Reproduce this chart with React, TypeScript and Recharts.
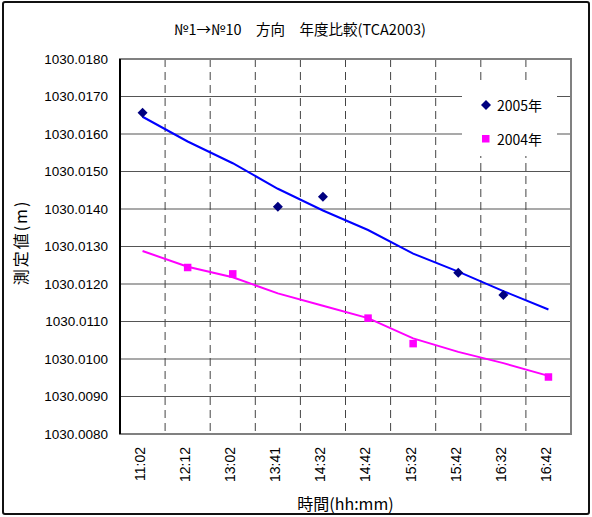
import React from 'react';
import {
  ComposedChart, Line, Scatter, XAxis, YAxis, CartesianGrid, Legend, ReferenceArea,
} from 'recharts';

const times = ['11:02', '12:12', '13:02', '13:41', '14:32', '14:42', '15:32', '15:42', '16:32', '16:42'];
const obs2005 = [1030.01657, null, null, 1030.01406, 1030.01433, null, null, 1030.0123, 1030.01171, null];
const obs2004 = [null, 1030.01244, 1030.01227, null, null, 1030.01109, 1030.01041, null, null, 1030.00952];
const trend2005 = [1030.01646, 1030.0158, 1030.01522, 1030.01454, 1030.01396, 1030.01344, 1030.01281, 1030.01233, 1030.01181, 1030.01132];
const trend2004 = [1030.01288, 1030.01246, 1030.01218, 1030.01175, 1030.01142, 1030.01109, 1030.01055, 1030.01019, 1030.00989, 1030.00955];
const yTicks = [1030.008, 1030.009, 1030.01, 1030.011, 1030.012, 1030.013, 1030.014, 1030.015, 1030.016, 1030.017, 1030.018];
const centerTicks = [0.5, 1.5, 2.5, 3.5, 4.5, 5.5, 6.5, 7.5, 8.5, 9.5];
const boundaryTicks = [1, 2, 3, 4, 5, 6, 7, 8, 9];
const seriesNames = ['2005年', '2004年'];
const titleText = '№1→№10　方向　年度比較(TCA2003)';
const xTitle = '時間(hh:mm)';
const yTitle = '測定値(m)';

const data = times.map((t, i) => ({ x: i + 0.5, time: t, t2005: trend2005[i], t2004: trend2004[i] }));
const pts2005 = times.map((t, i) => ({ x: i + 0.5, y: obs2005[i] })).filter((d) => d.y != null);
const pts2004 = times.map((t, i) => ({ x: i + 0.5, y: obs2004[i] })).filter((d) => d.y != null);

const numFont = "'Liberation Sans', Arial, sans-serif";
const jpFont = "'Noto Sans CJK JP', 'Liberation Sans', sans-serif";

const Diamond = (props: any) => {
  const { cx, cy } = props;
  if (cx == null || cy == null) return null;
  const r = 5;
  return <polygon points={`${cx},${cy - r} ${cx + r},${cy} ${cx},${cy + r} ${cx - r},${cy}`} fill="#000080" />;
};
const Square = (props: any) => {
  const { cx, cy } = props;
  if (cx == null || cy == null) return null;
  const s = 7.5;
  return <rect x={cx - s / 2} y={cy - s / 2} width={s} height={s} fill="#FF00FF" />;
};

const TimeTick = (props: any) => {
  const { x, y, payload } = props;
  const idx = Math.round(payload.value - 0.5);
  const label = times[idx] ?? '';
  const tx = x - 2.5;
  return (
    <text x={tx} y={y} transform={`rotate(-90, ${tx}, ${y})`} textAnchor="end" dy="0.35em"
      fontSize={14} fontFamily={numFont} fill="#000">
      {label}
    </text>
  );
};

const YTitle = (props: any) => {
  const vb = props.viewBox || {};
  const cy = (vb.y ?? 59) + (vb.height ?? 375) / 2 - 4;
  const cx = 21;
  return (
    <text x={cx} y={cy} transform={`rotate(-90, ${cx}, ${cy})`} textAnchor="middle" dy="0.35em"
      fontSize={16} letterSpacing={2} fontFamily={jpFont} fill="#000">
      {yTitle}
    </text>
  );
};

const LegendBox = () => (
  <div style={{ position: 'relative', width: 95, height: 72, fontFamily: jpFont, fontSize: 14, color: '#000' }}>
    <svg style={{ position: 'absolute', left: 18, top: 15 }} width={12} height={12}>
      <polygon points="6,1 11,6 6,11 1,6" fill="#000080" />
    </svg>
    <span style={{ position: 'absolute', left: 35, top: 11, lineHeight: '20px' }}>{seriesNames[0]}</span>
    <svg style={{ position: 'absolute', left: 18, top: 49 }} width={12} height={12}>
      <rect x={2} y={2} width={7.5} height={7.5} fill="#FF00FF" />
    </svg>
    <span style={{ position: 'absolute', left: 35, top: 45, lineHeight: '20px' }}>{seriesNames[1]}</span>
  </div>
);

export default function App() {
  return (
    <div style={{ position: 'absolute', left: 0, top: 0, width: 592, height: 517, background: '#fff' }}>
      <div style={{
        position: 'absolute', left: 2, top: 1, width: 584, height: 510,
        border: '2px solid #111', borderRadius: 3,
      }} />
      <div style={{
        position: 'absolute', left: 0, top: 18, width: 600, textAlign: 'center',
        fontFamily: jpFont, fontSize: 14.5, color: '#000',
      }}>{titleText}</div>
      <div style={{ position: 'absolute', left: 0, top: 0 }}>
        <ComposedChart width={592} height={517} data={data}
          margin={{ top: 59, right: 21, bottom: 0, left: 0 }}>
          <XAxis xAxisId="grid" dataKey="x" type="number" domain={[0, 10]} ticks={boundaryTicks}
            allowDataOverflow height={0} mirror tickSize={5} tickFormatter={() => ''}
            axisLine={{ stroke: '#000', strokeWidth: 2 }} tickLine={{ stroke: '#000', strokeWidth: 1 }} />
          <XAxis xAxisId="lab" dataKey="x" type="number" domain={[0, 10]} ticks={centerTicks}
            allowDataOverflow height={83} axisLine={false} tickLine={false} tickSize={0} tickMargin={13}
            tick={<TimeTick />} interval={0}
            label={{ value: xTitle, position: 'insideBottom', offset: 7, fontSize: 16, fontFamily: jpFont, fill: '#000' }} />
          <YAxis yAxisId="v" type="number" domain={[1030.008, 1030.018]} ticks={yTicks} allowDataOverflow
            width={120} interval={0} tickLine={false} tickMargin={6}
            axisLine={{ stroke: '#000', strokeWidth: 2 }}
            tickFormatter={(v: number) => v.toFixed(4)}
            tick={{ fontSize: 13.5, fontFamily: numFont, fill: '#000' }}
            label={{ content: (p: any) => <YTitle {...p} /> }} />
          <CartesianGrid xAxisId="lab" yAxisId="v" vertical={false} stroke="#555" strokeWidth={1.2} />
          <CartesianGrid xAxisId="grid" yAxisId="v" horizontal={false} stroke="#444" strokeDasharray="8 5" />
          <ReferenceArea xAxisId="lab" yAxisId="v" x1={0} x2={10} y1={1030.008} y2={1030.018}
            fill="none" stroke="#808080" strokeWidth={2} ifOverflow="visible" />
          <Line xAxisId="lab" yAxisId="v" dataKey="t2005" stroke="#0000FF" strokeWidth={2} dot={false}
            isAnimationActive={false} legendType="none" />
          <Line xAxisId="lab" yAxisId="v" dataKey="t2004" stroke="#FF00FF" strokeWidth={2} dot={false}
            isAnimationActive={false} legendType="none" />
          <Scatter xAxisId="lab" yAxisId="v" name={seriesNames[0]} data={pts2005} dataKey="y"
            shape={<Diamond />} isAnimationActive={false} />
          <Scatter xAxisId="lab" yAxisId="v" name={seriesNames[1]} data={pts2004} dataKey="y"
            shape={<Square />} isAnimationActive={false} />
          <Legend layout="vertical" align="center" verticalAlign="middle" content={() => <LegendBox />}
            wrapperStyle={{ position: 'absolute', left: 462, top: 84, width: 95, height: 72, background: '#fff' }} />
        </ComposedChart>
      </div>
    </div>
  );
}
